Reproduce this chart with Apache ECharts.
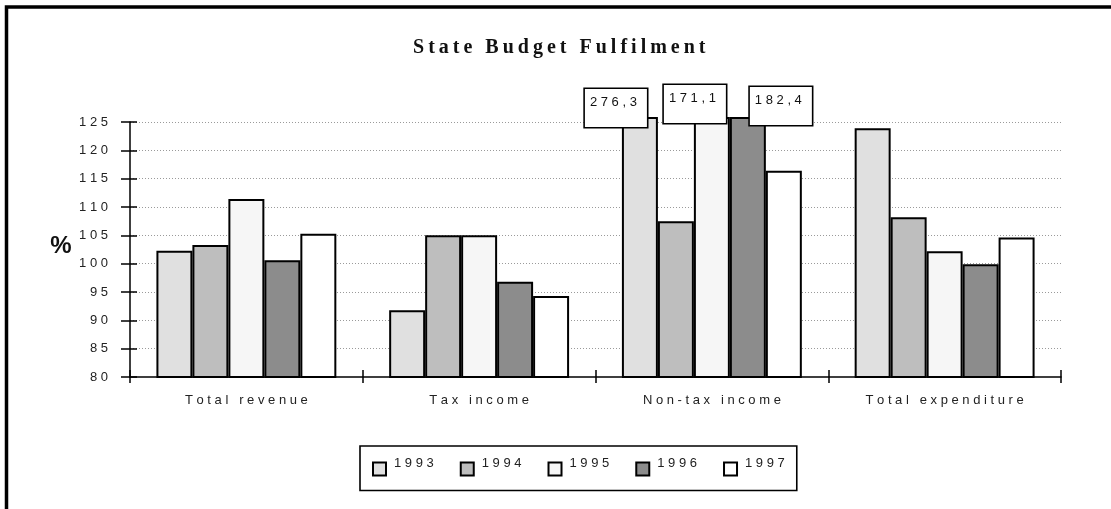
<!DOCTYPE html>
<html>
<head>
<meta charset="utf-8">
<title>State Budget Fulfilment</title>
<script src="https://cdn.jsdelivr.net/npm/echarts@6/dist/echarts.min.js"></script>
<style>
  html, body { margin: 0; padding: 0; background: #ffffff; }
  #chart { width: 1111px; height: 509px; }
</style>
</head>
<body>
<div id="chart"></div>
<script>
// Budget fulfilment, % of plan, by item and year
const categories = ['Total revenue', 'Tax income', 'Non-tax income', 'Total expenditure'];
const years = ['1993', '1994', '1995', '1996', '1997'];
const values1993 = [102.3, 91.8, 276.3, 123.9];
const values1994 = [103.3, 105.0, 107.5, 108.2];
const values1995 = [111.4, 105.0, 171.1, 102.2];
const values1996 = [100.6, 96.8, 182.4, 99.9];
const values1997 = [105.3, 94.3, 116.4, 104.6];
const yTicks = [80, 85, 90, 95, 100, 105, 110, 115, 120, 125];

const seriesValues = [values1993, values1994, values1995, values1996, values1997];
const yMin = yTicks[0];
const yMax = yTicks[yTicks.length - 1];
const yStep = yTicks[1] - yTicks[0];

// Fills for each year
const fills = ['#e0e0e0', '#bebebe', '#f6f6f6', '#8c8c8c', '#ffffff'];
// Where the value boxes of off-scale bars sit, relative to the bar's clipped top-left corner
const boxShift = { '1993': [-37, -28], '1994': [-30, -30], '1995': [-30, -32], '1996': [20, -30], '1997': [-30, -30] };

const FONT = "'Liberation Sans Narrow', 'Liberation Sans', Arial, sans-serif";
const spaced = (s, sep) => Array.from(String(s)).join(sep === undefined ? ' ' : sep);
const decimalComma = v => v.toFixed(1).replace('.', ',');

// grid 0 carries the visible scale, grid 1 the bars (a few px taller so off-scale bars poke above 125)
const G = { left: 130, right: 50, bottom: 132 };

const series = years.map((year, i) => ({
  name: year,
  type: 'bar',
  xAxisIndex: 1,
  yAxisIndex: 1,
  barGap: '0%',
  barCategoryGap: '22.7%',
  itemStyle: { color: fills[i], borderColor: '#000', borderWidth: 2 },
  emphasis: { disabled: true },
  data: seriesValues[i].map(v => {
    if (v <= yMax) return v;
    return {
      value: v,
      label: {
        show: true,
        position: boxShift[year],
        formatter: p => spaced(decimalComma(p.value)),
        fontFamily: FONT,
        fontSize: 13,
        color: '#111',
        backgroundColor: '#fff',
        borderColor: '#000',
        borderWidth: 1.6,
        align: 'left',
        verticalAlign: 'top',
        width: 53,
        height: 25,
        padding: [7, 4, 6, 5]
      }
    };
  })
}));

const chart = echarts.init(document.getElementById('chart'), null, { renderer: 'canvas' });
chart.setOption({
  animation: false,
  backgroundColor: '#ffffff',
  title: {
    text: spaced('State Budget Fulfilment', '\u2009'),
    left: 413,
    top: 38,
    padding: 0,
    textStyle: { fontFamily: "'Liberation Serif', 'Times New Roman', serif", fontWeight: 'bold', fontSize: 20, color: '#111' }
  },
  legend: {
    data: years,
    left: 360,
    top: 446,
    orient: 'horizontal',
    icon: 'rect',
    itemWidth: 13,
    itemHeight: 13,
    itemGap: 26,
    borderColor: '#000',
    borderWidth: 1.6,
    borderRadius: 0,
    padding: [11, 12, 14, 12],
    selectedMode: false,
    // a tall empty token lets the year sit at the top of the line, a little above the swatch centre
    formatter: name => '{lift|}{yr|' + spaced(name) + '}',
    textStyle: {
      fontFamily: FONT, fontSize: 13, color: '#222',
      rich: {
        lift: { width: 3, height: 24 },
        yr: { fontFamily: FONT, fontSize: 13, color: '#222', verticalAlign: 'top' }
      }
    }
  },
  grid: [
    { left: G.left, right: G.right, bottom: G.bottom, top: 122 },
    { left: G.left, right: G.right, bottom: G.bottom, top: 118 }
  ],
  xAxis: [
    {
      type: 'category', gridIndex: 0, data: categories,
      axisLine: { lineStyle: { color: '#000', width: 1.5 } },
      axisTick: { show: true, inside: false, length: 6, lineStyle: { color: '#000', width: 1.5 } },
      axisLabel: { margin: 17, fontFamily: FONT, fontSize: 13, color: '#222', formatter: v => spaced(v) },
      splitLine: { show: false }
    },
    {
      type: 'category', gridIndex: 1, data: categories,
      axisLine: { show: false },
      axisTick: { show: true, inside: true, length: 7, lineStyle: { color: '#000', width: 1.5 } },
      axisLabel: { show: false },
      splitLine: { show: false }
    }
  ],
  yAxis: [
    {
      type: 'value', gridIndex: 0, position: 'left', min: yMin, max: yMax, interval: yStep,
      axisLine: { show: true, lineStyle: { color: '#000', width: 1.5 } },
      axisTick: { show: true, inside: false, length: 9, lineStyle: { color: '#000', width: 1.5 } },
      axisLabel: { margin: 22, fontFamily: FONT, fontSize: 13, color: '#222', formatter: v => spaced(v) },
      splitLine: { show: true, showMinLine: false, lineStyle: { color: '#9a9a9a', type: [1, 2], width: 1 } }
    },
    {
      type: 'value', gridIndex: 1, min: yMin,
      max: yMin + (yMax - yMin) * (509 - 132 - 118) / (509 - 132 - 122),
      show: false
    },
    {
      type: 'value', gridIndex: 0, position: 'left', offset: 0, min: yMin, max: yMax, interval: yStep,
      axisLine: { show: false },
      axisTick: { show: true, inside: true, length: 7, lineStyle: { color: '#000', width: 1.5 } },
      axisLabel: { show: false },
      splitLine: { show: false }
    }
  ],
  graphic: [
    {
      type: 'rect', silent: true, z: 100,
      shape: { x: 6.5, y: 7, width: 3000, height: 3000 },
      style: { fill: 'none', stroke: '#000', lineWidth: 3.5 }
    },
    {
      type: 'text', silent: true,
      x: 61, y: 246,
      style: { text: '%', fontFamily: "'Liberation Sans', Arial, sans-serif", fontWeight: 'bold', fontSize: 24, fill: '#111', align: 'center', verticalAlign: 'middle' }
    }
  ],
  series: series
});
</script>
</body>
</html>
